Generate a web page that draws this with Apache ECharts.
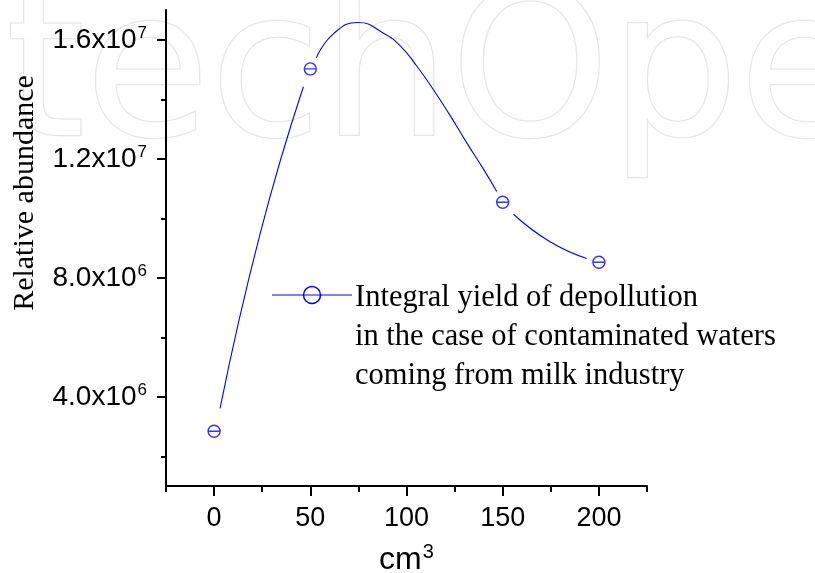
<!DOCTYPE html>
<html>
<head>
<meta charset="utf-8">
<script src="https://cdn.jsdelivr.net/npm/echarts@6/dist/echarts.min.js"></script>
<style>html,body{margin:0;padding:0;background:#fff}#c{width:815px;height:573px}</style>
</head>
<body>
<div id="c"></div>
<script>
// ---- data ----
var seriesName = 'Integral yield of depollution\nin the case of contaminated waters\ncoming from milk industry';
var pointX = [0, 50, 150, 200];
var pointY = [2.84e6, 1.502e7, 1.054e7, 8.52e6];
// fitted curve (three visible pieces, gaps at markers)
var curveSeg1X = [3.1, 24, 46.4];
var curveSeg1Y = [3.61e6, 9.5e6, 1.442e7];
var curveSeg2X = [53.1, 62, 75, 88, 97, 105.5, 114, 122.7, 131.4, 140, 146.9];
var curveSeg2Y = [1.539e7, 1.62e7, 1.658e7, 1.622e7, 1.578e7, 1.51e7, 1.432e7, 1.345e7, 1.2525e7, 1.165e7, 1.09e7];
var curveSeg3X = [155.6, 174.6, 193.6];
var curveSeg3Y = [1.0135e7, 9.21e6, 8.65e6];
var xMajorTicks = [0, 50, 100, 150, 200];
var xMinorTicks = [-25, 25, 75, 125, 175, 225];
var yMajorTicks = [4e6, 8e6, 1.2e7, 1.6e7];
var yMinorTicks = [2e6, 6e6, 1e7, 1.4e7];
var xTitle = 'cm';
var xTitleSup = '3';
var yTitle = 'Relative abundance';

function zip(xs, ys) { return xs.map(function (x, i) { return [x, ys[i]]; }); }
var curveData = zip(curveSeg1X, curveSeg1Y).concat([[50, '-']])
  .concat(zip(curveSeg2X, curveSeg2Y)).concat([[150, '-']])
  .concat(zip(curveSeg3X, curveSeg3Y));
var pointData = zip(pointX, pointY);

var BLUE = '#0000ff';
var SANS = '"Liberation Sans", Arial, sans-serif';
var SERIF = '"Liberation Serif", "Times New Roman", serif';

function sciLabel(v) {
  var e = Math.floor(Math.log10(v) + 1e-9);
  var m = (v / Math.pow(10, e)).toFixed(1);
  return '{m|' + m + 'x10}{e|' + e + '}';
}

var chart = echarts.init(document.getElementById('c'), null, {renderer: 'canvas'});
var axisLineStyle = {color: '#000', width: 2};
chart.setOption({
  animation: false,
  backgroundColor: '#fff',
  grid: {left: 166, right: 168, top: 10, bottom: 87, containLabel: false, outerBoundsMode: 'none'},
  xAxis: [{
    type: 'value', min: -25, max: 225,
    axisLine: {show: true, onZero: false, lineStyle: axisLineStyle},
    axisTick: {show: true, length: 10, lineStyle: {color: '#000', width: 2}, customValues: xMajorTicks},
    axisLabel: {show: true, margin: 19, customValues: xMajorTicks, color: '#000', fontFamily: SANS, fontSize: 27},
    splitLine: {show: false},
    name: '{m|' + xTitle + '}{e|' + xTitleSup + '}',
    nameLocation: 'middle', nameGap: 56,
    nameTextStyle: {
      rich: {
        m: {fontFamily: SANS, fontSize: 32, color: '#000', lineHeight: 34, verticalAlign: 'bottom'},
        e: {fontFamily: SANS, fontSize: 20, color: '#000', lineHeight: 34, verticalAlign: 'top', padding: [0, 0, 0, 1]}
      }
    }
  }, {
    type: 'value', min: -25, max: 225, position: 'bottom',
    axisLine: {show: false, onZero: false},
    axisTick: {show: true, length: 6, lineStyle: {color: '#000', width: 2}, customValues: xMinorTicks},
    axisLabel: {show: false},
    splitLine: {show: false}
  }],
  yAxis: [{
    type: 'value', min: 1e6, max: 1.7e7,
    axisLine: {show: true, onZero: false, lineStyle: axisLineStyle},
    axisTick: {show: true, length: 9, lineStyle: {color: '#000', width: 2}, customValues: yMajorTicks},
    axisLabel: {
      show: true, margin: 19, customValues: yMajorTicks,
      formatter: sciLabel,
      rich: {
        m: {fontFamily: SANS, fontSize: 28, color: '#000', lineHeight: 30, verticalAlign: 'bottom'},
        e: {fontFamily: SANS, fontSize: 17, color: '#000', lineHeight: 30, verticalAlign: 'top', padding: [0, 0, 0, 1]}
      }
    },
    splitLine: {show: false},
    name: yTitle, nameLocation: 'middle', nameGap: 126, nameRotate: 90,
    nameTextStyle: {fontFamily: SERIF, fontSize: 30, color: '#000', padding: [0, 0, 0, 110]}
  }, {
    type: 'value', min: 1e6, max: 1.7e7, position: 'left',
    axisLine: {show: false, onZero: false},
    axisTick: {show: true, length: 5, lineStyle: {color: '#000', width: 2}, customValues: yMinorTicks},
    axisLabel: {show: false},
    splitLine: {show: false}
  }],
  series: [{
    name: seriesName,
    type: 'line',
    xAxisIndex: 0, yAxisIndex: 0,
    data: curveData,
    smooth: 0.5,
    connectNulls: false,
    symbol: 'none',
    lineStyle: {color: BLUE, width: 1.1},
    itemStyle: {color: BLUE},
    z: 2
  }, {
    name: seriesName,
    type: 'scatter',
    xAxisIndex: 0, yAxisIndex: 0,
    data: pointData,
    symbol: 'path://M0,6A6,6 0 1,1 12,6A6,6 0 1,1 0,6ZM0,6L12,6',
    symbolSize: 12,
    itemStyle: {color: 'rgba(0,0,0,0)', borderColor: BLUE, borderWidth: 1.4},
    z: 3
  }],
  graphic: [{
    type: 'text', z: -10, silent: true, x: -183, y: -19,
    style: {text: 'IntechOpen', font: '203px "DejaVu Sans"', fill: '#ffffff', stroke: '#e6e6e6', lineWidth: 2.5,
            verticalAlign: 'top'}
  }, {
    type: 'line', z: 5, silent: true,
    shape: {x1: 272, y1: 295, x2: 352, y2: 295},
    style: {stroke: BLUE, lineWidth: 1.2}
  }, {
    type: 'circle', z: 5, silent: true,
    shape: {cx: 312, cy: 295, r: 8.5},
    style: {stroke: BLUE, lineWidth: 1.5, fill: 'none'}
  }, {
    type: 'text', z: 5, silent: true, x: 355, y: 278,
    style: {text: seriesName, font: '30.5px "Liberation Serif"', fill: '#000', lineHeight: 39, verticalAlign: 'top'}
  }]
});
</script>
</body>
</html>
